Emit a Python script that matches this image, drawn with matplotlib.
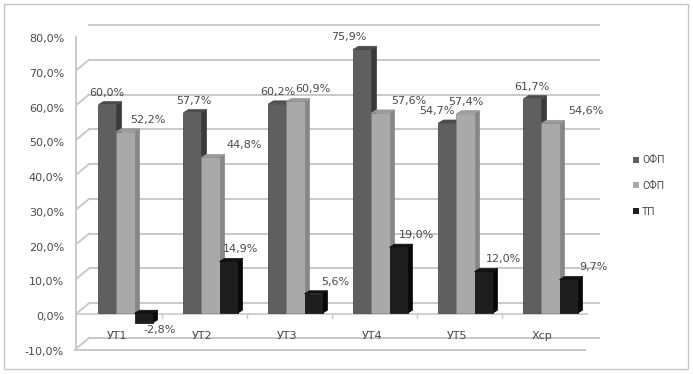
#!/usr/bin/env python3
"""Pseudo-3D clustered column chart: ОФП / СФП / ТП by group."""

import matplotlib
matplotlib.use('Agg')
import matplotlib.pyplot as plt
import numpy as np
from matplotlib.patches import Polygon, Patch, Rectangle
from matplotlib.transforms import ScaledTranslation

# Data
categories = ['УТ1', 'УТ2', 'УТ3', 'УТ4', 'УТ5', 'Хср']
series_names = ['ОФП', 'СФП', 'ТП']
ofp = [60.0, 57.7, 60.2, 75.9, 54.7, 61.7]
sfp = [52.2, 44.8, 60.9, 57.6, 57.4, 54.6]
tp = [-2.8, 14.9, 5.6, 19.0, 12.0, 9.7]
y_ticks = list(range(-10, 90, 10))

# Styles
FRONT = ['#5f5f5f', '#a9a9a9', '#1e1e1e']
SIDE = ['#3a3a3a', '#878787', '#080808']
TOP = ['#4c4c4c', '#9a9a9a', '#121212']
GRID = '#c9c9c9'
TEXT = '#4a4a4a'
# px shift of each value label (Excel moved them around to avoid overlaps)
LABEL_DX = [
    [-1, 1, 0, -14, -11, -1],
    [22, 34, 17, 28, 0, 35],
    [16, 12, 22, 18, 20, 25],
]
BACK = (14, 12)             # back wall offset in px
BAR_OFF = (8, 2)            # bars sit a bit behind the front plane
BAR_DEPTH = (5, 3)          # visible depth of each column
W = 0.212                   # column width in category units

plt.rcParams['font.family'] = ['DejaVu Sans']

fig = plt.figure(figsize=(6.93, 3.74), dpi=100)
fig.patch.set_facecolor('white')
fig.add_artist(Rectangle((4 / 693, 5 / 374), 684 / 693, 365 / 374,
                         transform=fig.transFigure, fill=False,
                         edgecolor='#c4c4c4', linewidth=1))

ax = fig.add_axes([75 / 693, 24 / 374, 510 / 693, 313 / 374])
ax.set_xlim(-0.5, len(categories) - 0.5)
ax.set_ylim(-10, 80)
ax.axis('off')


def off(dx, dy):
    return ax.transData + ScaledTranslation(dx / 100, dy / 100, fig.dpi_scale_trans)


back = off(*BACK)
x0, x1 = ax.get_xlim()

# back wall grid lines + left wall slants
for v in y_ticks:
    ax.plot([x0, x1], [v, v], color=GRID, lw=1.4, transform=back, clip_on=False, zorder=1)
    p_front = ax.transData.transform((x0, v))
    p_back = back.transform((x0, v))
    ax.add_line(plt.Line2D([p_front[0] - 3, p_back[0]], [p_front[1] - 2, p_back[1]],
                           color=GRID, lw=1.4, transform=None, zorder=1))
    ax.text(x0, v, f'{v:.1f}%'.replace('.', ','), transform=off(-11, -2),
            ha='right', va='center', fontsize=8, color=TEXT)

# left wall front edge, floor edges
ax.plot([x0, x0], [-10, 80], color=GRID, lw=1.4, transform=off(1, 0), clip_on=False, zorder=1)
ax.plot([x0, x1], [-10, -10], color=GRID, lw=1.4, clip_on=False, zorder=1)
pf = ax.transData.transform((x1, -10))
pb = back.transform((x1, -10))
ax.add_line(plt.Line2D([pf[0], pb[0]], [pf[1], pb[1]], color=GRID, lw=1.4,
                       transform=None, zorder=1))
# category axis at zero
ax.plot([x0, x1], [0, 0], color=GRID, lw=1.2, transform=off(2, 1), clip_on=False, zorder=2)
for i in range(1, len(categories)):
    ax.plot([i - 0.5, i - 0.5], [0, -1.2], color=GRID, lw=1, transform=off(2, 1),
            clip_on=False, zorder=2)

for i, c in enumerate(categories):
    ax.text(i, -10, c, transform=off(0, 14), ha='center', va='center',
            fontsize=8, color=TEXT)

# columns
bar_t = off(*BAR_OFF)
dpx = np.array(BAR_DEPTH, dtype=float)
for k, vals in enumerate([ofp, sfp, tp]):
    for i, v in enumerate(vals):
        xc = i + (k - 1) * W
        xl, xr = xc - W / 2, xc + W / 2
        lo, hi = min(0, v), max(0, v)
        fl = bar_t.transform((xl, lo))
        fr = bar_t.transform((xr, lo))
        tl = bar_t.transform((xl, hi))
        tr = bar_t.transform((xr, hi))
        z = 3 + k * 0.1 + i
        ax.add_patch(Polygon([fr, fr + dpx, tr + dpx, tr], closed=True, transform=None,
                             facecolor=SIDE[k], edgecolor=SIDE[k], lw=0.5, zorder=z))
        ax.add_patch(Polygon([tl, tr, tr + dpx, tl + dpx], closed=True, transform=None,
                             facecolor=TOP[k], edgecolor=TOP[k], lw=0.5, zorder=z))
        ax.add_patch(Polygon([fl, fr, tr, tl], closed=True, transform=None,
                             facecolor=FRONT[k], edgecolor=SIDE[k], lw=0.5, zorder=z))
        lab = f'{v:.1f}%'.replace('.', ',')
        dy = 14 if v >= 0 else -5
        ax.text(xc, v, lab, transform=off(BAR_OFF[0] + LABEL_DX[k][i], dy),
                ha='center', va='center', fontsize=8, color=TEXT, zorder=20)

handles = [Patch(facecolor=FRONT[k], edgecolor='none', label=series_names[k]) for k in range(3)]
fig.legend(handles=handles, loc='center left', bbox_to_anchor=(624 / 693, 1 - 186 / 374),
           frameon=False, handlelength=0.55, handleheight=0.55, handletextpad=0.3,
           labelspacing=1.5, labelcolor=TEXT,
           prop={'family': 'Roboto', 'size': 7.5})

fig.savefig('out.png', dpi=100, facecolor='white')
